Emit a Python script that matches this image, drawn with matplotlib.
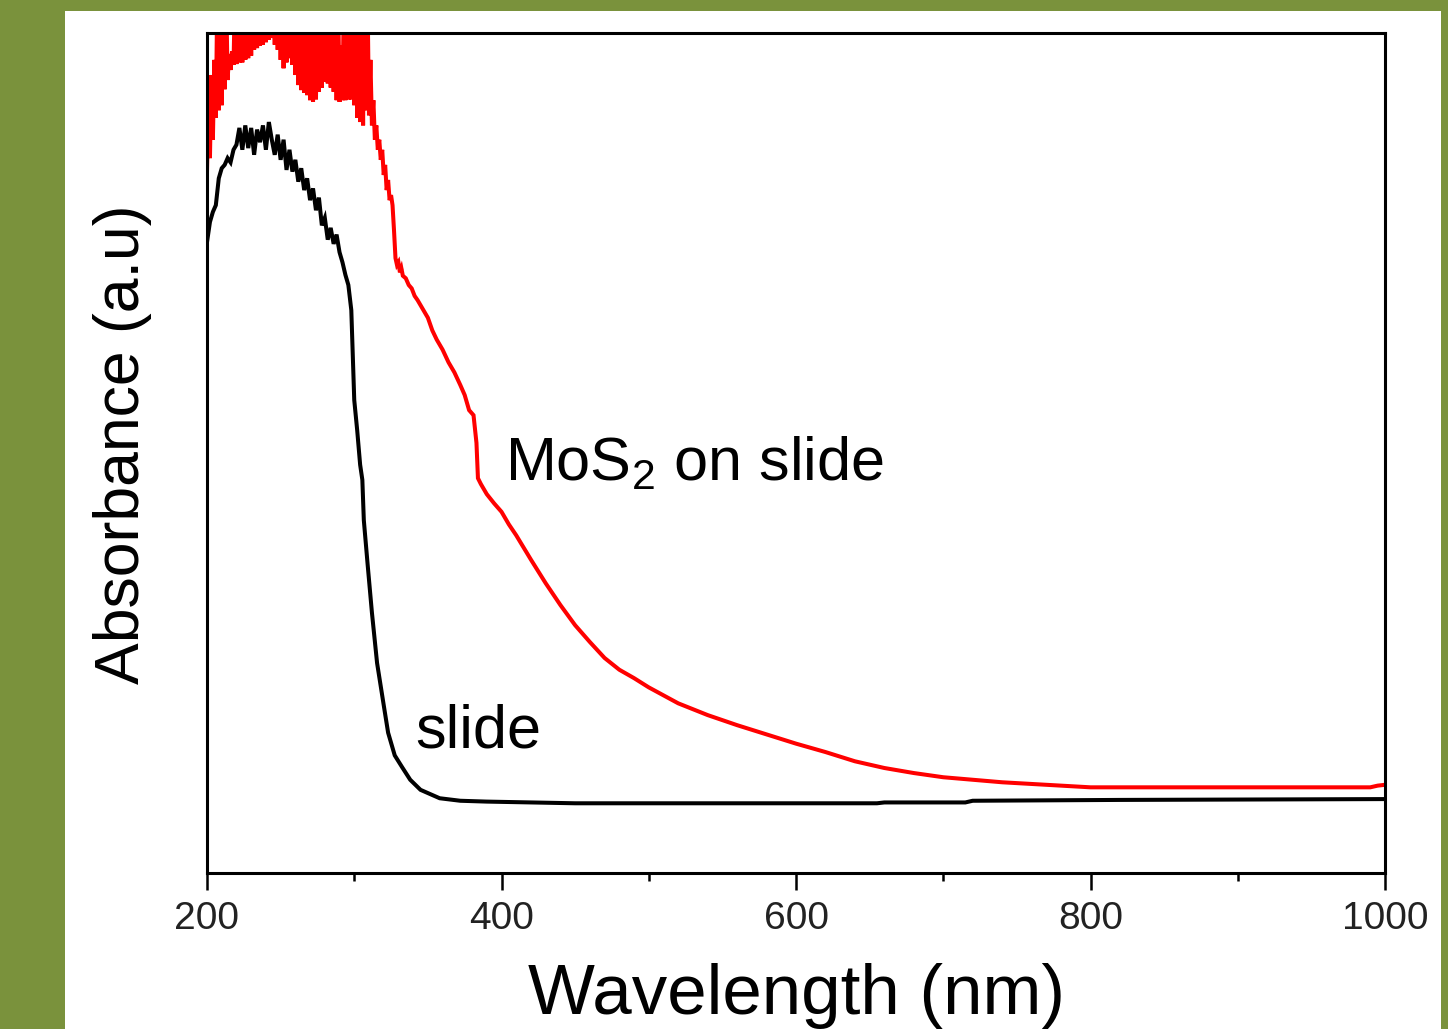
"""UV-Vis absorbance of bare glass slide vs MoS2 on slide."""

import matplotlib.pyplot as plt
from matplotlib.patches import Rectangle
from matplotlib.ticker import MultipleLocator

plt.rcParams["font.family"] = ["Liberation Sans", "DejaVu Sans"]
plt.rcParams["mathtext.fontset"] = "custom"
plt.rcParams["mathtext.rm"] = "Liberation Sans"

SLIDE_GREEN = "#7A923C"

# bare slide (black trace)
slide_nm = [
    200, 202, 204, 206, 208, 210, 212, 214, 216, 218, 220, 222, 224, 226, 228,
    230, 232, 234, 236, 238, 240, 242, 244, 246, 248, 250, 252, 254, 256, 258,
    260, 262, 264, 266, 268, 270, 272, 274, 276, 278, 280, 282, 284, 286, 288,
    290, 292, 294, 296, 298, 300, 302, 304, 305.5, 306.5, 309, 312, 315.5, 320,
    323, 327.5, 332.5, 338, 345, 358, 372, 390, 450, 500, 600, 655, 660, 715,
    720, 820, 1000,
]
slide_abs = [
    0.751, 0.775, 0.787, 0.795, 0.827, 0.839, 0.843, 0.851, 0.846, 0.861, 0.867,
    0.887, 0.861, 0.890, 0.863, 0.887, 0.855, 0.885, 0.870, 0.890, 0.861, 0.894,
    0.873, 0.855, 0.879, 0.849, 0.873, 0.837, 0.861, 0.835, 0.849, 0.823, 0.839,
    0.813, 0.827, 0.801, 0.815, 0.789, 0.804, 0.771, 0.780, 0.754, 0.768, 0.749,
    0.760, 0.739, 0.727, 0.712, 0.700, 0.670, 0.563, 0.527, 0.486, 0.468, 0.420,
    0.369, 0.310, 0.250, 0.200, 0.167, 0.140, 0.126, 0.111, 0.099, 0.089, 0.086,
    0.085, 0.083, 0.083, 0.083, 0.083, 0.084, 0.084, 0.086, 0.087, 0.088,
]

# MoS2 on slide (red trace); values above 1.0 are the saturated noise, clipped by the frame
mos2_nm = [
    200, 201, 202, 203, 204, 205, 206, 207, 208, 209, 210, 211, 212, 213, 214,
    215, 216, 217, 218, 219, 220, 221, 222, 223, 224, 225, 226, 227, 228, 229,
    230, 231, 232, 233, 234, 235, 236, 237, 238, 239, 240, 241, 242, 243, 244,
    245, 246, 247, 248, 249, 250, 251, 252, 253, 254, 255, 256, 257, 258, 259,
    260, 261, 262, 263, 264, 265, 266, 267, 268, 269, 270, 271, 272, 273, 274,
    275, 276, 277, 278, 279, 280, 281, 282, 283, 284, 285, 286, 287, 288, 289,
    290, 291, 292, 293, 294, 295, 296, 297, 298, 299, 300, 301, 302, 303, 304,
    305, 306, 307, 308, 309, 310, 311, 312, 313, 314, 315, 316, 317, 318, 319,
    320, 321, 322, 323, 324, 325, 326, 327, 328, 329, 330, 331, 332, 333, 335,
    337, 339, 341, 343, 345, 347, 350, 353, 356, 360, 364, 368, 372, 375, 378,
    381, 383, 384, 386, 390, 395, 400, 405, 410, 420, 430, 440, 450, 460, 470,
    480, 490, 500, 520, 540, 560, 580, 600, 620, 640, 660, 680, 700, 720, 740,
    760, 780, 800, 850, 900, 950, 990, 995, 1000,
]
mos2_abs = [
    0.835, 0.917, 0.851, 0.950, 0.873, 0.968, 0.899, 1.05, 0.908, 1.05, 0.914,
    1.05, 0.933, 1.05, 0.944, 0.975, 0.956, 0.978, 0.962, 1.05, 0.963, 1.05,
    0.965, 1.05, 0.965, 1.05, 0.968, 1.05, 0.970, 1.05, 0.973, 1.05, 0.980,
    1.05, 0.982, 1.05, 0.985, 1.05, 0.986, 1.05, 0.989, 1.05, 0.992, 1.05,
    0.994, 1.05, 0.986, 1.05, 0.980, 1.05, 0.968, 1.05, 0.958, 1.05, 0.965,
    1.05, 0.970, 1.05, 0.962, 1.05, 0.950, 1.05, 0.938, 1.05, 0.932, 1.05,
    0.929, 1.05, 0.926, 1.05, 0.920, 1.05, 0.918, 1.05, 0.921, 1.05, 0.930,
    1.05, 0.935, 1.05, 0.942, 1.05, 0.940, 1.05, 0.935, 1.05, 0.930, 1.05,
    0.920, 1.05, 0.918, 0.985, 0.920, 1.05, 0.920, 1.05, 0.921, 1.05, 0.921,
    1.05, 0.914, 1.05, 0.899, 1.05, 0.894, 1.05, 0.890, 1.05, 0.908, 1.05,
    0.902, 0.968, 0.890, 0.920, 0.873, 0.890, 0.861, 0.873, 0.849, 0.861,
    0.831, 0.843, 0.813, 0.825, 0.801, 0.807, 0.795, 0.765, 0.732, 0.724,
    0.727, 0.715, 0.720, 0.711, 0.708, 0.700, 0.696, 0.687, 0.682, 0.676,
    0.670, 0.661, 0.646, 0.635, 0.623, 0.608, 0.596, 0.581, 0.569, 0.551,
    0.545, 0.512, 0.470, 0.463, 0.451, 0.440, 0.430, 0.415, 0.402, 0.373,
    0.345, 0.319, 0.295, 0.275, 0.256, 0.242, 0.232, 0.221, 0.202, 0.188,
    0.176, 0.165, 0.154, 0.144, 0.133, 0.125, 0.119, 0.114, 0.111, 0.108,
    0.106, 0.104, 0.102, 0.102, 0.102, 0.102, 0.102, 0.104, 0.105,
]

x_ticks = [200, 400, 600, 800, 1000]


def main() -> None:
    fig = plt.figure(figsize=(14.48, 10.29), dpi=100, facecolor=SLIDE_GREEN)
    # white slide area inside the green frame, kept behind the axes
    fig.patches.append(
        Rectangle((65 / 1448, 0), (1441 - 65) / 1448, 1 - 11 / 1029,
                  transform=fig.transFigure, facecolor="white", edgecolor="none", zorder=-10)
    )

    ax = fig.add_axes([207 / 1448, 1 - 873 / 1029, 1178 / 1448, 840 / 1029])
    ax.plot(slide_nm, slide_abs, color="black", lw=2.9, solid_joinstyle="miter")
    ax.plot(mos2_nm, mos2_abs, color="#FF0000", lw=2.9, solid_joinstyle="miter")

    ax.set_xlim(200, 1000)
    ax.set_ylim(0, 1)
    ax.set_xticks(x_ticks)
    ax.xaxis.set_minor_locator(MultipleLocator(100))
    ax.set_yticks([])
    ax.tick_params(axis="x", which="major", direction="out", length=12, width=1.8,
                   pad=8, labelsize=28, labelcolor="#222222")
    ax.tick_params(axis="x", which="minor", direction="out", length=6, width=1.8)
    for spine in ax.spines.values():
        spine.set_linewidth(2.2)

    ax.set_xlabel("Wavelength (nm)", fontsize=51)
    ax.xaxis.label.set_va("baseline")
    ax.xaxis.set_label_coords(0.5, -0.168)
    ax.set_ylabel("Absorbance (a.u)", fontsize=45)
    ax.yaxis.label.set_va("center")
    ax.yaxis.set_label_coords(-0.072, 0.51)

    ax.text(402.4, 0.468, r"MoS$_\mathregular{2}$ on slide", fontsize=44,
            ha="left", va="baseline")
    ax.text(341.3, 0.149, "slide", fontsize=44, ha="left", va="baseline")

    fig.savefig("out.png", dpi=100, facecolor=fig.get_facecolor())
    plt.close(fig)


if __name__ == "__main__":
    main()
